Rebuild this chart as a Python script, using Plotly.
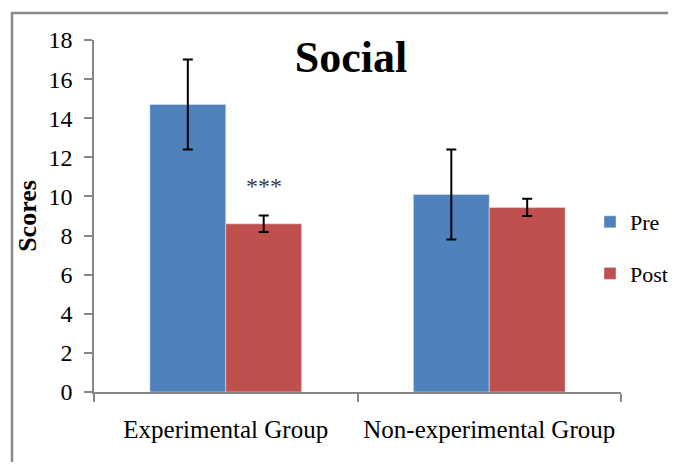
import plotly.graph_objects as go

categories = ["Experimental Group", "Non-experimental Group"]
pre_values = [14.7, 10.1]
pre_errors = [2.3, 2.3]
post_values = [8.6, 9.44]
post_errors = [0.42, 0.44]
series_names = ["Pre", "Post"]
y_ticks = [0, 2, 4, 6, 8, 10, 12, 14, 16, 18]

FONT = "Liberation Serif"
BLUE = "#4F81BD"
RED = "#C0504D"
AXIS = "#868686"

# the page adds an 8px body margin, so the figure is sized/offset to compensate
W, H = 660, 454
L, T = 86, 32
PR, PB = 613, 384

fig = go.Figure()
fig.add_trace(go.Bar(
    x=categories, y=pre_values, name=series_names[0], marker_color=BLUE,
    legendgroup="a",
    error_y=dict(type="data", array=pre_errors, visible=True, color="black", thickness=2, width=5),
))
fig.add_trace(go.Bar(
    x=categories, y=post_values, name=series_names[1], marker_color=RED,
    legendgroup="b",
    error_y=dict(type="data", array=post_errors, visible=True, color="black", thickness=2, width=5),
))

fig.add_annotation(x=categories[0], y=10.55, xref="x", yref="y", xshift=38,
                   text="***", showarrow=False,
                   font=dict(family=FONT, size=24, color="#404040"))

pw = PR - L
ph = PB - T
fig.add_shape(type="rect", xref="paper", yref="paper",
              x0=(4 - L) / pw, x1=1.3, y0=-0.5, y1=(PB - 5) / ph,
              line=dict(color="#8a8a8a", width=2.5), fillcolor="rgba(0,0,0,0)", layer="below")

fig.update_layout(
    width=W, height=H,
    margin=dict(l=L, r=W - PR, t=T, b=H - PB, autoexpand=False),
    paper_bgcolor="white", plot_bgcolor="white",
    barmode="group", bargap=0.424, bargroupgap=0,
    font=dict(family=FONT, size=24, color="black"),
    title=dict(text="<b>Social</b>", font=dict(family=FONT, size=44, color="black"),
               x=(343 - L) / pw, xref="paper", xanchor="center",
               y=1 - 49 / H, yref="container", yanchor="middle"),
    legend=dict(x=(582 - L) / pw, xanchor="left", y=(PB - 240) / ph, yanchor="middle",
                bgcolor="rgba(0,0,0,0)", traceorder="grouped", tracegroupgap=20,
                font=dict(family=FONT, size=22, color="black")),
    xaxis=dict(type="category", showline=True, linecolor=AXIS, linewidth=1.5,
               ticks="outside", tickson="boundaries", ticklen=8, tickcolor=AXIS, tickwidth=1.5,
               tickangle=0, automargin=False,
               ticklabelstandoff=14, tickfont=dict(family=FONT, size=25, color="black"),
               showgrid=False),
    yaxis=dict(range=[0, 18], tickvals=y_ticks, showline=True, linecolor=AXIS, linewidth=1.5,
               ticks="outside", ticklen=8, tickcolor=AXIS, tickwidth=1.5, automargin=False,
               ticklabelstandoff=7, tickfont=dict(family=FONT, size=24, color="black"),
               showgrid=False, zeroline=False,
               title=dict(text="<b>Scores</b>", font=dict(family=FONT, size=26, color="black"),
                          standoff=4)),
)

fig.write_html("out.html")
